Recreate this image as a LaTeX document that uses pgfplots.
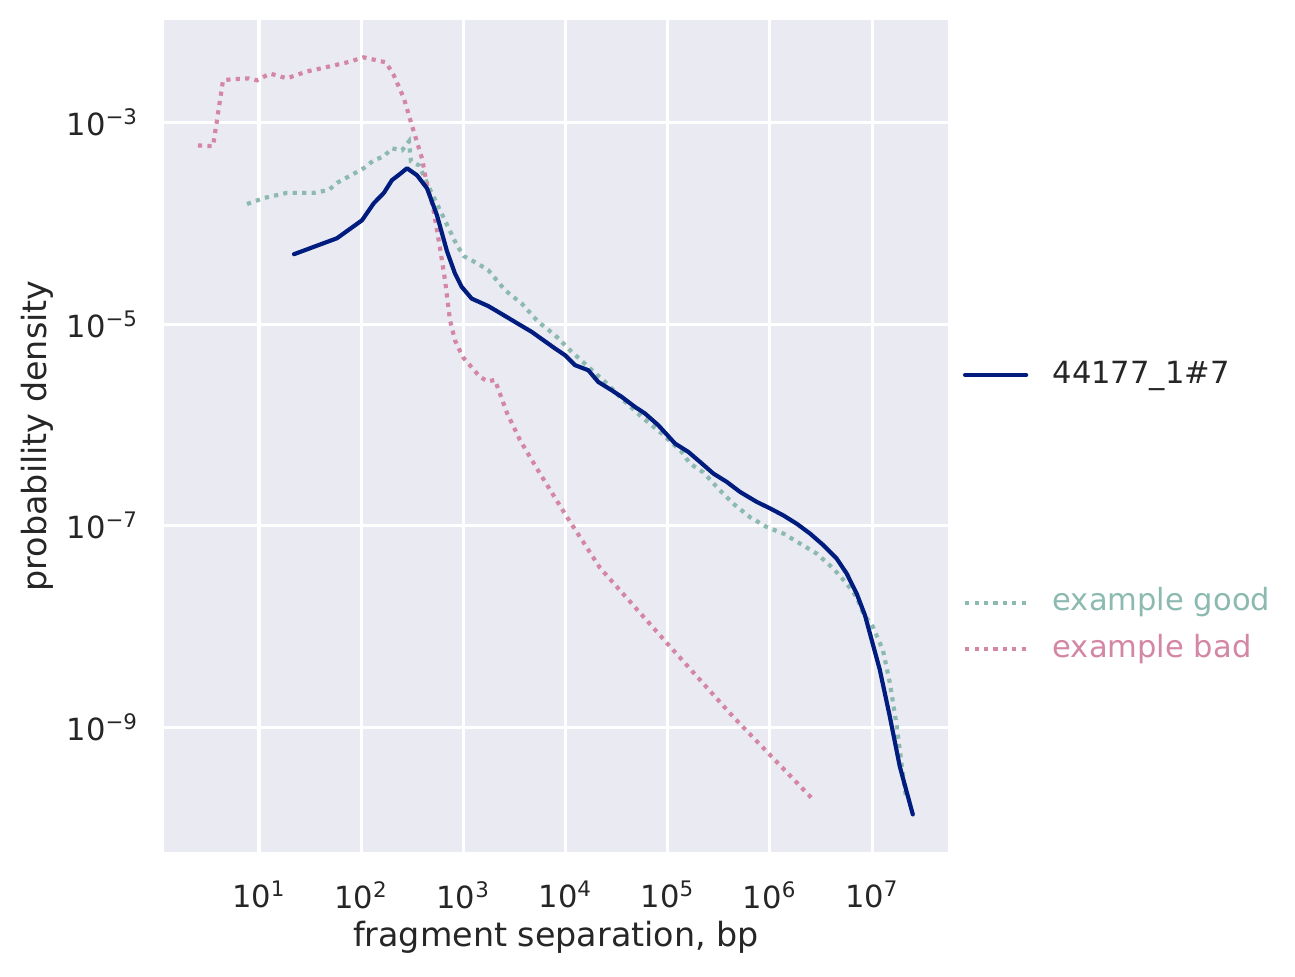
\documentclass[border=0pt]{standalone}
\usepackage{fontspec}
\setmainfont{DejaVu Sans}
\usepackage{pgfplots}
\pgfplotsset{compat=1.18}
\definecolor{bg}{HTML}{EAEAF2}
\definecolor{navy}{HTML}{001C7F}
\definecolor{goodc}{RGB}{140,186,177}
\definecolor{badc}{RGB}{212,135,165}
\definecolor{txt}{HTML}{262626}
\tikzset{dotline/.style={line width=1.5pt, line cap=butt, dash pattern=on 1.5pt off 1.9pt}}
\begin{document}
\begin{tikzpicture}[x=1pt,y=1pt]
\path[use as bounding box] (-59.04,-45.0) rectangle (407.16,306.6);
\begin{axis}[at={(0,0)}, anchor=south west, scale only axis,
  width=282.24pt, height=299.4pt,
  xmode=log, ymode=log,
  xmin=1.176, xmax=5.54e7, ymin=5.89e-11, ymax=1.034e-2,
  axis background/.style={fill=bg},
  axis line style={draw=none},
  major tick length=0pt, minor tick length=0pt,
  grid=major, major grid style={white, line width=1.1pt},
  xtick={1e1,1e2,1e3,1e4,1e5,1e6,1e7},
  xticklabels={10\textsuperscript{1},10\textsuperscript{2},10\textsuperscript{3},10\textsuperscript{4},10\textsuperscript{5},10\textsuperscript{6},10\textsuperscript{7}},
  ytick={1e-9,1e-7,1e-5,1e-3},
  yticklabels={10\textsuperscript{−9},10\textsuperscript{−7},10\textsuperscript{−5},10\textsuperscript{−3}},
  minor xtick={}, minor ytick={},
  tick label style={font=\fontsize{11}{13}\selectfont, text=txt, inner sep=0pt},
  xticklabel shift=10.4pt,
  yticklabel shift=9pt,
  xlabel={fragment separation, bp},
  ylabel={probability density},
  label style={font=\fontsize{12}{14}\selectfont, text=txt},
  xlabel style={at={(axis description cs:0.5,0)}, anchor=base, yshift=-34.3pt},
  ylabel style={at={(axis description cs:-0.162,0.5)}, anchor=center},
  legend image code/.code={\draw[#1] (0pt,0pt) -- (22pt,0pt);},
  legend style={at={(axis description cs:1.0191,0.5732)}, anchor=west,
    draw=none, fill=none, inner sep=0pt, outer sep=0pt,
    font=\fontsize{11}{13}\selectfont, text=txt,
    nodes={inner sep=0pt, text height=8.2pt, text depth=2.4pt},
    column sep=8.8pt},
  legend cell align=left,
]
\addplot[goodc, dotline, forget plot] coordinates {
(7.64,1.55e-4) (11.2,1.78e-4) (18.8,2.0e-4) (34.5,2.0e-4) (48.4,2.14e-4)
(58.0,2.51e-4) (79.4,2.99e-4) (106,3.51e-4) (133,4.21e-4) (167,4.6e-4)
(200,5.53e-4) (251,5.28e-4) (294,6.49e-4) (307,4.11e-4) (368,3.75e-4)
(482,2.07e-4) (646,1.12e-4) (865,6.05e-5) (1014,4.71e-5) (1358,4.02e-5)
(1754,3.43e-5) (2559,2.17e-5) (3724,1.60e-5) (5420,1.05e-5) (7889,7.78e-6)
(11510,5.31e-6) (16710,3.77e-6) (24380,2.67e-6) (35480,1.83e-6) (55720,1.20e-6)
(87300,8.24e-7) (137100,5.41e-7) (165200,4.15e-7) (223400,3.39e-7) (325100,2.25e-7)
(438500,1.66e-7) (639700,1.22e-7) (931100,9.75e-8) (1.355e6,8.39e-8) (1.972e6,6.68e-8)
(2.877e6,5.31e-8) (4.178e6,3.78e-8) (5.649e6,2.68e-8) (7.079e6,1.97e-8) (8.222e6,1.35e-8)
(1.019e7,1.0e-8) (1.276e7,5.9e-9) (1.493e7,2.79e-9) (1.75e7,1.02e-9) (1.959e7,4.11e-10)
(2.143e7,2.09e-10)
};
\addplot[badc, dotline, forget plot] coordinates {
(2.53,5.91e-4) (3.55,5.8e-4) (4.45,2.61e-3) (5.32,2.67e-3) (7.98,2.73e-3)
(9.55,2.61e-3) (12.8,3.05e-3) (18.8,2.73e-3) (29.5,3.2e-3) (40.5,3.43e-3)
(72.6,3.93e-3) (106,4.41e-3) (175,3.93e-3) (209,2.92e-3) (262,1.73e-3)
(314,9.3e-4) (394,4.4e-4) (441,2.4e-4) (505,1.45e-4) (590,5.75e-5)
(661,2.75e-5) (740,1.1e-5) (828,6.9e-6) (991,4.7e-6) (1452,3.0e-6)
(1738,2.7e-6) (2037,2.8e-6) (2673,1.32e-6) (3581,7.1e-7) (5248,3.7e-7)
(1e4,1.29e-7) (21730,3.84e-8) (98170,6.9e-9) (434500,1.29e-9) (2.754e6,1.86e-10)
};
\addplot[navy, line width=1.5pt, line cap=round, line join=round] coordinates {
(22.0,4.93e-5) (58.0,7.10e-5) (102,1.07e-4) (133,1.58e-4) (167,2.0e-4)
(200,2.67e-4) (245,3.13e-4) (281,3.51e-4) (352,2.99e-4) (441,2.22e-4)
(552,1.20e-4) (692,5.28e-5) (828,3.18e-5) (964,2.34e-5) (1208,1.79e-5)
(1754,1.51e-5) (2198,1.32e-5) (3206,1.05e-5) (4667,8.38e-6) (7889,5.74e-6)
(9886,4.92e-6) (12390,3.92e-6) (16710,3.49e-6) (20940,2.67e-6) (28310,2.21e-6)
(35480,1.90e-6) (47860,1.51e-6) (59980,1.30e-6) (80910,9.95e-7) (118000,6.55e-7)
(159200,5.41e-7) (207000,4.31e-7) (279900,3.30e-7) (378400,2.73e-7) (510500,2.17e-7)
(743000,1.73e-7) (1.005e6,1.49e-7) (1.355e6,1.27e-7) (1.832e6,1.05e-7) (2.472e6,8.39e-8)
(3.342e6,6.43e-8) (4.508e6,4.74e-8) (5.649e6,3.37e-8) (7.079e6,2.13e-8) (8.531e6,1.30e-8)
(9.5e6,8.7e-9) (1.191e7,3.75e-9) (1.493e7,1.29e-9) (1.871e7,4.11e-10) (2.506e7,1.38e-10)
};
\addlegendentry{44177\_1\#7}
\end{axis}
\begin{axis}[at={(0,0)}, anchor=south west, scale only axis,
  width=282.24pt, height=299.4pt,
  xmode=log, ymode=log,
  xmin=1.176, xmax=5.54e7, ymin=5.89e-11, ymax=1.034e-2,
  hide axis,
  legend image code/.code={\draw[#1] (0pt,0pt) -- (22pt,0pt);},
  legend style={at={(axis description cs:1.0191,0.2714)}, anchor=west,
    draw=none, fill=none, inner sep=0pt, outer sep=0pt,
    font=\fontsize{11}{13}\selectfont,
    nodes={inner sep=0pt, text height=8.2pt, text depth=2.4pt},
    column sep=8.8pt, row sep=6pt},
  legend cell align=left,
]
\addlegendimage{goodc, dotline}
\addlegendentry[text=goodc]{example good}
\addlegendimage{badc, dotline}
\addlegendentry[text=badc]{example bad}
\end{axis}
\end{tikzpicture}
\end{document}
